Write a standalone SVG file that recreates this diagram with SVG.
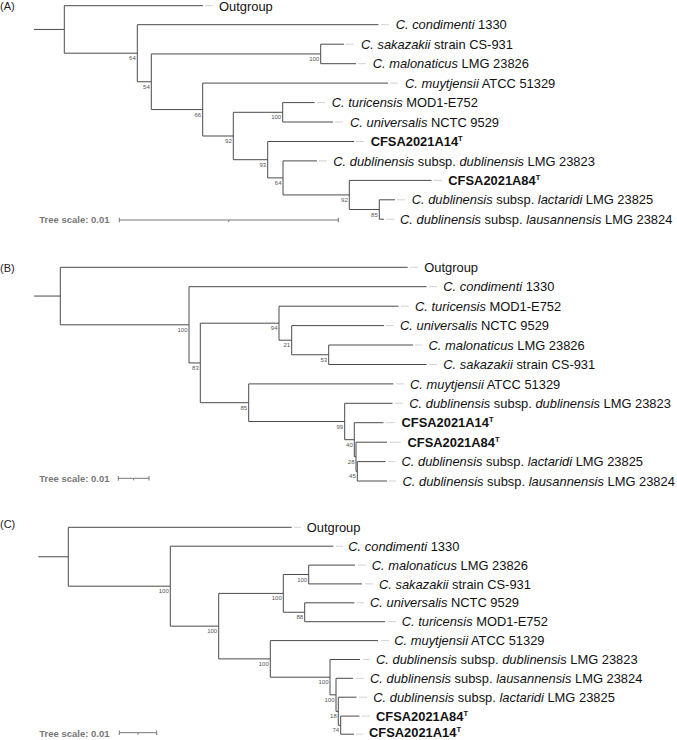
<svg xmlns="http://www.w3.org/2000/svg" width="677" height="740" viewBox="0 0 677 740">
<style>
.br{fill:none;stroke:#4a4a4a;stroke-width:1}
.ld{stroke:#d2d2d2;stroke-width:1}
.lb{font-family:"Liberation Sans",Arial,sans-serif;font-size:12.9px;fill:#111}
.i{font-style:italic}
.bd{font-weight:bold}
.bs{font-family:"Liberation Sans",Arial,sans-serif;font-size:6px;fill:#555;text-anchor:end}
.pl{font-family:"Liberation Sans",Arial,sans-serif;font-size:11px;fill:#222}
.sc{font-family:"Liberation Sans",Arial,sans-serif;font-size:9.5px;font-weight:bold;fill:#777}
.sb{fill:none;stroke:#777;stroke-width:1}
</style>
<rect width="677" height="740" fill="#fff"/>

<!-- panel labels -->
<text class="pl" x="0" y="9.8">(A)</text>
<text class="pl" x="0" y="271.7">(B)</text>
<text class="pl" x="0" y="527.5">(C)</text>

<g id="connectors">
<!-- Panel A -->
<path class="br" d="M34,29.45H64.3 M64.3,5.7V53.2 M64.3,5.7H203 M64.3,53.2H137.3
M137.3,24.7V81.75 M137.3,24.7H378.5 M137.3,81.75H151.3
M151.3,53.95V109.55 M151.3,53.95H320.7
M320.7,44.2V63.7 M320.7,44.2H344 M320.7,63.7H356
M151.3,109.55H202.7 M202.7,83.1V136 M202.7,83.1H388 M202.7,136H233.3
M233.3,112.3V159.7 M233.3,112.3H282.7
M282.7,102.6V122 M282.7,102.6H314.5 M282.7,122H333
M233.3,159.7H267.7 M267.7,141.5V177.9 M267.7,141.5H354 M267.7,177.9H283
M283,160.9V194.95 M283,160.9H317 M283,194.95H349.3
M349.3,180.4V209.5 M349.3,180.4H431.5 M349.3,209.5H379.3
M379.3,199.8V219.2 M379.3,199.8H395 M379.3,219.2H384"/>
<!-- Panel B -->
<path class="br" d="M34,296.05H60.3 M60.3,267.3V324.8 M60.3,267.3H407.7 M60.3,324.8H189
M189,286.7V362.95 M189,286.7H426.5 M189,362.95H200.3
M200.3,323.2V402.7 M200.3,323.2H279
M279,306.2V340.2 M279,306.2H398.5 M279,340.2H291.7
M291.7,325.6V354.75 M291.7,325.6H384 M291.7,354.75H328.7
M328.7,345V364.5 M328.7,345H413 M328.7,364.5H426.5
M200.3,402.7H248.7 M248.7,383.9V421.5 M248.7,383.9H393.5 M248.7,421.5H344.7
M344.7,403.3V439.7 M344.7,403.3H392.5 M344.7,439.7H354.3
M354.3,422.7V456.75 M354.3,422.7H383.5 M354.3,456.75H356
M356,442.2V471.3 M356,442.2H387 M356,471.3H357.3
M357.3,461.6V481 M357.3,461.6H385.5 M357.3,481H387"/>
<!-- Panel C -->
<path class="br" d="M38.3,556.75H68.3 M68.3,527.3V586.2 M68.3,527.3H291.7 M68.3,586.2H170.3
M170.3,546.2V626.15 M170.3,546.2H333.3 M170.3,626.15H218.7
M218.7,593.4V658.9 M218.7,593.4H283.3
M283.3,574.5V612.25 M283.3,574.5H308.7
M308.7,565.1V583.9 M308.7,565.1H355 M308.7,583.9H362
M283.3,612.25H304.7 M304.7,602.8V621.7 M304.7,602.8H354.3 M304.7,621.7H385
M218.7,658.9H270.3 M270.3,640.6V677.2 M270.3,640.6H378 M270.3,677.2H330
M330,659.5V694.85 M330,659.5H360 M330,694.85H336
M336,678.3V711.4 M336,678.3H353 M336,711.4H338.3
M338.3,697.2V725.3 M338.3,697.2H356.5 M338.3,725.3H340.7
M340.7,716.1V734.2 M340.7,716.1H359.5 M340.7,734.2H354"/>
</g>

<!-- ===== Panel A leaves ===== -->
<g id="a-outgroup"><line class="ld" x1="205" y1="5.7" x2="213" y2="5.7"/><text class="lb" x="219" y="11.2">Outgroup</text></g>
<g id="a-condimenti"><line class="ld" x1="381" y1="24.7" x2="389" y2="24.7"/><text class="lb" x="395.7" y="29.3"><tspan class="i">C. condimenti</tspan> 1330</text></g>
<g id="a-sakazakii"><line class="ld" x1="346" y1="44.2" x2="354" y2="44.2"/><text class="lb" x="361" y="48.8"><tspan class="i">C. sakazakii</tspan> strain CS-931</text></g>
<g id="a-malonaticus"><line class="ld" x1="358" y1="63.7" x2="366" y2="63.7"/><text class="lb" x="372.7" y="68.3"><tspan class="i">C. malonaticus</tspan> LMG 23826</text></g>
<g id="a-muytjensii"><line class="ld" x1="390" y1="83.1" x2="398" y2="83.1"/><text class="lb" x="405" y="87.7"><tspan class="i">C. muytjensii</tspan> ATCC 51329</text></g>
<g id="a-turicensis"><line class="ld" x1="317" y1="102.6" x2="325" y2="102.6"/><text class="lb" x="331.7" y="107.2"><tspan class="i">C. turicensis</tspan> MOD1-E752</text></g>
<g id="a-universalis"><line class="ld" x1="335" y1="122" x2="343" y2="122"/><text class="lb" x="350" y="126.6"><tspan class="i">C. universalis</tspan> NCTC 9529</text></g>
<g id="a-cfsa14"><line class="ld" x1="356" y1="141.5" x2="364" y2="141.5"/><text class="lb bd" x="370.7" y="146.1">CFSA2021A14<tspan font-size="7.5" dy="-5">T</tspan></text></g>
<g id="a-dublinensis"><line class="ld" x1="319" y1="160.9" x2="327" y2="160.9"/><text class="lb" x="333.3" y="165.5"><tspan class="i">C. dublinensis</tspan> subsp. <tspan class="i">dublinensis</tspan> LMG 23823</text></g>
<g id="a-cfsa84"><line class="ld" x1="434" y1="180.4" x2="442" y2="180.4"/><text class="lb bd" x="448.3" y="185">CFSA2021A84<tspan font-size="7.5" dy="-5">T</tspan></text></g>
<g id="a-lactaridi"><line class="ld" x1="397" y1="199.8" x2="405" y2="199.8"/><text class="lb" x="411.7" y="204.4"><tspan class="i">C. dublinensis</tspan> subsp. <tspan class="i">lactaridi</tspan> LMG 23825</text></g>
<g id="a-lausannensis"><line class="ld" x1="386" y1="219.2" x2="394" y2="219.2"/><text class="lb" x="400" y="223.8"><tspan class="i">C. dublinensis</tspan> subsp. <tspan class="i">lausannensis</tspan> LMG 23824</text></g>

<!-- Panel A internal nodes -->
<g id="a-n1"><text class="bs" x="135.8" y="60.2">64</text></g>
<g id="a-n2"><text class="bs" x="149.8" y="88.75">54</text></g>
<g id="a-n3"><text class="bs" x="319.2" y="60.95">100</text></g>
<g id="a-n4"><text class="bs" x="201.2" y="116.55">66</text></g>
<g id="a-n5"><text class="bs" x="231.8" y="143">92</text></g>
<g id="a-n6"><text class="bs" x="281.2" y="119.3">100</text></g>
<g id="a-n7"><text class="bs" x="266.2" y="166.7">93</text></g>
<g id="a-n8"><text class="bs" x="281.5" y="184.9">64</text></g>
<g id="a-n9"><text class="bs" x="347.8" y="201.95">92</text></g>
<g id="a-n10"><text class="bs" x="377.8" y="216.5">85</text></g>

<g id="a-scale"><text class="sc" x="39.3" y="223.3">Tree scale: 0.01</text>
<path class="sb" d="M119.3,220H338.3 M119.3,217.7V222.3 M338.3,217.7V222.3 M228.8,220V222"/></g>

<!-- ===== Panel B leaves ===== -->
<g id="b-outgroup"><line class="ld" x1="410" y1="267.3" x2="418" y2="267.3"/><text class="lb" x="424.3" y="271.9">Outgroup</text></g>
<g id="b-condimenti"><line class="ld" x1="429" y1="286.7" x2="437" y2="286.7"/><text class="lb" x="443.3" y="291.3"><tspan class="i">C. condimenti</tspan> 1330</text></g>
<g id="b-turicensis"><line class="ld" x1="401" y1="306.2" x2="409" y2="306.2"/><text class="lb" x="415" y="310.8"><tspan class="i">C. turicensis</tspan> MOD1-E752</text></g>
<g id="b-universalis"><line class="ld" x1="386" y1="325.6" x2="394" y2="325.6"/><text class="lb" x="400" y="330.2"><tspan class="i">C. universalis</tspan> NCTC 9529</text></g>
<g id="b-malonaticus"><line class="ld" x1="415" y1="345" x2="422" y2="345"/><text class="lb" x="428.5" y="349.6"><tspan class="i">C. malonaticus</tspan> LMG 23826</text></g>
<g id="b-sakazakii"><line class="ld" x1="429" y1="364.5" x2="437" y2="364.5"/><text class="lb" x="443.3" y="369.1"><tspan class="i">C. sakazakii</tspan> strain CS-931</text></g>
<g id="b-muytjensii"><line class="ld" x1="396" y1="383.9" x2="404" y2="383.9"/><text class="lb" x="410" y="388.5"><tspan class="i">C. muytjensii</tspan> ATCC 51329</text></g>
<g id="b-dublinensis"><line class="ld" x1="395" y1="403.3" x2="403" y2="403.3"/><text class="lb" x="409.3" y="407.9"><tspan class="i">C. dublinensis</tspan> subsp. <tspan class="i">dublinensis</tspan> LMG 23823</text></g>
<g id="b-cfsa14"><line class="ld" x1="386" y1="422.7" x2="395" y2="422.7"/><text class="lb bd" x="401.5" y="427.3">CFSA2021A14<tspan font-size="7.5" dy="-5">T</tspan></text></g>
<g id="b-cfsa84"><line class="ld" x1="390" y1="442.2" x2="401" y2="442.2"/><text class="lb bd" x="407.5" y="446.8">CFSA2021A84<tspan font-size="7.5" dy="-5">T</tspan></text></g>
<g id="b-lactaridi"><line class="ld" x1="388" y1="461.6" x2="395" y2="461.6"/><text class="lb" x="401.5" y="466.2"><tspan class="i">C. dublinensis</tspan> subsp. <tspan class="i">lactaridi</tspan> LMG 23825</text></g>
<g id="b-lausannensis"><line class="ld" x1="389" y1="481" x2="396" y2="481"/><text class="lb" x="402.5" y="485.6"><tspan class="i">C. dublinensis</tspan> subsp. <tspan class="i">lausannensis</tspan> LMG 23824</text></g>

<!-- Panel B internal nodes -->
<g id="b-n1"><text class="bs" x="187.5" y="331.8">100</text></g>
<g id="b-n2"><text class="bs" x="198.8" y="370">83</text></g>
<g id="b-n3"><text class="bs" x="277.5" y="330.2">94</text></g>
<g id="b-n4"><text class="bs" x="290.2" y="347.2">21</text></g>
<g id="b-n5"><text class="bs" x="327.2" y="361.75">53</text></g>
<g id="b-n6"><text class="bs" x="247.2" y="409.7">85</text></g>
<g id="b-n7"><text class="bs" x="343.2" y="428.5">99</text></g>
<g id="b-n8"><text class="bs" x="352.8" y="446.7">40</text></g>
<g id="b-n9"><text class="bs" x="354.5" y="463.75">28</text></g>
<g id="b-n10"><text class="bs" x="355.8" y="477.5">45</text></g>

<g id="b-scale"><text class="sc" x="39.3" y="482.3">Tree scale: 0.01</text>
<path class="sb" d="M118.3,478.3H149 M118.3,476V480.6 M149,476V480.6 M133.7,478.3V480.3"/></g>

<!-- ===== Panel C leaves ===== -->
<g id="c-outgroup"><line class="ld" x1="294" y1="527.3" x2="301" y2="527.3"/><text class="lb" x="306.7" y="531.9">Outgroup</text></g>
<g id="c-condimenti"><line class="ld" x1="336" y1="546.2" x2="343" y2="546.2"/><text class="lb" x="348.3" y="550.8"><tspan class="i">C. condimenti</tspan> 1330</text></g>
<g id="c-malonaticus"><line class="ld" x1="358" y1="565.1" x2="366" y2="565.1"/><text class="lb" x="371.7" y="569.7"><tspan class="i">C. malonaticus</tspan> LMG 23826</text></g>
<g id="c-sakazakii"><line class="ld" x1="365" y1="583.9" x2="373" y2="583.9"/><text class="lb" x="379" y="588.5"><tspan class="i">C. sakazakii</tspan> strain CS-931</text></g>
<g id="c-universalis"><line class="ld" x1="357" y1="602.8" x2="364" y2="602.8"/><text class="lb" x="370" y="607.4"><tspan class="i">C. universalis</tspan> NCTC 9529</text></g>
<g id="c-turicensis"><line class="ld" x1="388" y1="621.7" x2="396" y2="621.7"/><text class="lb" x="401.7" y="626.3"><tspan class="i">C. turicensis</tspan> MOD1-E752</text></g>
<g id="c-muytjensii"><line class="ld" x1="381" y1="640.6" x2="389" y2="640.6"/><text class="lb" x="394.3" y="645.2"><tspan class="i">C. muytjensii</tspan> ATCC 51329</text></g>
<g id="c-dublinensis"><line class="ld" x1="363" y1="659.5" x2="370" y2="659.5"/><text class="lb" x="376" y="664.1"><tspan class="i">C. dublinensis</tspan> subsp. <tspan class="i">dublinensis</tspan> LMG 23823</text></g>
<g id="c-lausannensis"><line class="ld" x1="356" y1="678.3" x2="364" y2="678.3"/><text class="lb" x="370" y="682.9"><tspan class="i">C. dublinensis</tspan> subsp. <tspan class="i">lausannensis</tspan> LMG 23824</text></g>
<g id="c-lactaridi"><line class="ld" x1="359" y1="697.2" x2="367" y2="697.2"/><text class="lb" x="373.3" y="701.8"><tspan class="i">C. dublinensis</tspan> subsp. <tspan class="i">lactaridi</tspan> LMG 23825</text></g>
<g id="c-cfsa84"><line class="ld" x1="362" y1="716.1" x2="370" y2="716.1"/><text class="lb bd" x="376" y="720.7">CFSA2021A84<tspan font-size="7.5" dy="-5">T</tspan></text></g>
<g id="c-cfsa14"><line class="ld" x1="356" y1="734.2" x2="363" y2="734.2"/><text class="lb bd" x="369" y="737.2">CFSA2021A14<tspan font-size="7.5" dy="-5">T</tspan></text></g>

<!-- Panel C internal nodes -->
<g id="c-n1"><text class="bs" x="168.8" y="593.2">100</text></g>
<g id="c-n2"><text class="bs" x="217.2" y="633.15">100</text></g>
<g id="c-n3"><text class="bs" x="281.8" y="600.4">100</text></g>
<g id="c-n4"><text class="bs" x="307.2" y="581.5">100</text></g>
<g id="c-n5"><text class="bs" x="303.2" y="619.25">88</text></g>
<g id="c-n6"><text class="bs" x="268.8" y="665.9">100</text></g>
<g id="c-n7"><text class="bs" x="328.5" y="684.2">100</text></g>
<g id="c-n8"><text class="bs" x="334.5" y="701.85">100</text></g>
<g id="c-n9"><text class="bs" x="336.8" y="718.4">18</text></g>
<g id="c-n10"><text class="bs" x="339.2" y="732.1">74</text></g>

<g id="c-scale"><text class="sc" x="39.3" y="736.5">Tree scale: 0.01</text>
<path class="sb" d="M119.3,732.7H156.7 M119.3,730.4V735 M156.7,730.4V735 M138,732.7V734.7"/></g>
</svg>
